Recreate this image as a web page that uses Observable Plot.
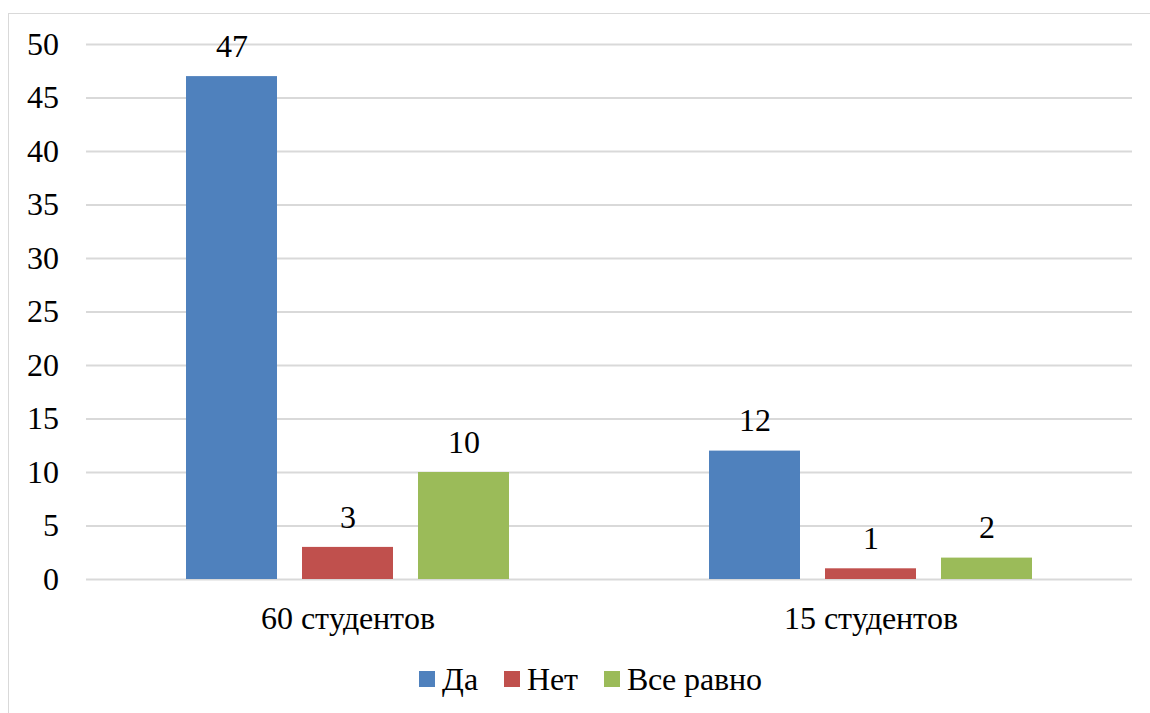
<!DOCTYPE html>
<html><head><meta charset="utf-8">
<script src="https://cdn.jsdelivr.net/npm/d3@7"></script>
<script src="https://cdn.jsdelivr.net/npm/@observablehq/plot@0.6"></script>
<style>
@font-face{font-family:"ChartSerif";src:local("Liberation Serif"),local("LiberationSerif"),local("Liberation Serif Regular"),local("LiberationSerif-Regular");}
html,body{margin:0;background:#fff;}
body, body *{font-family:"ChartSerif","Liberation Serif",Tinos,"Times New Roman",serif !important;}
#frame{position:absolute;left:8px;top:13px;width:1200px;height:760px;border:1.5px solid #d9d9d9;box-sizing:border-box;}
#chart{position:absolute;left:0;top:0;}
#legend{position:absolute;left:419px;top:660px;display:flex;font-size:32px;color:#000;line-height:38px;}
.item{display:flex;align-items:center;margin-right:26px;}
.sw{width:16px;height:16px;display:inline-block;margin-right:7px;}
</style></head>
<body>
<div id="frame"></div>
<div id="chart"></div>
<div id="legend"></div>
<script>
const groups = ["60 студентов", "15 студентов"];
const answers = ["Да", "Нет", "Все равно"];
const yes = [47, 12];
const no = [3, 1];
const indifferent = [10, 2];
const colors = ["#4f81bd", "#c0504d", "#9bbb59"];
const yTicks = [0, 5, 10, 15, 20, 25, 30, 35, 40, 45, 50];

const series = [yes, no, indifferent];
const data = [];
groups.forEach((g, gi) => answers.forEach((a, ai) => data.push({group: g, answer: a, value: series[ai][gi]})));

const plot = Plot.plot({
  width: 1150,
  height: 640,
  marginLeft: 85,
  marginRight: 18,
  marginTop: 44,
  marginBottom: 61,
  style: {fontFamily: "Liberation Serif", fontSize: "32px", color: "#000", background: "transparent"},
  fx: {domain: groups, padding: 0, label: null},
  x: {domain: answers, paddingInner: 0.215, paddingOuter: 0.85, axis: null},
  y: {domain: [0, 50], label: null},
  color: {domain: answers, range: colors},
  marks: [
    Plot.gridY(yTicks, {stroke: "#d9d9d9", strokeOpacity: 1, strokeWidth: 2}),
    Plot.axisY(yTicks, {tickSize: 0, tickPadding: 28, label: null, fontSize: 32}),
    Plot.axisFx({tickSize: 0, tickPadding: 27, label: null, anchor: "bottom", fontSize: 32}),
    Plot.barY(data, {fx: "group", x: "answer", y: "value", fill: "answer"}),
    Plot.text(data, {fx: "group", x: "answer", y: "value", text: d => String(d.value), dy: -30, fill: "#000", fontSize: 32})
  ]
});
document.getElementById("chart").appendChild(plot);
plot.querySelectorAll("text").forEach(t => t.setAttribute("font-family", "Liberation Serif"));

const legend = document.getElementById("legend");
answers.forEach((a, i) => {
  const it = document.createElement("span");
  it.className = "item";
  const sw = document.createElement("span");
  sw.className = "sw";
  sw.style.background = colors[i];
  it.appendChild(sw);
  it.appendChild(document.createTextNode(a));
  legend.appendChild(it);
});
</script>
</body></html>
